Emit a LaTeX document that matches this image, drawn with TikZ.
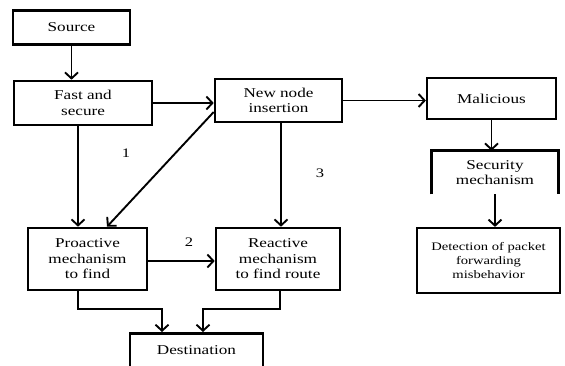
\documentclass[tikz,border=0pt]{standalone}
\usepackage{fontspec}
\setmainfont{Liberation Serif}[FakeStretch=1.27]
\usetikzlibrary{arrows.meta}
\begin{document}
\begin{tikzpicture}[x=1pt,y=-1pt,
  box/.style={draw, line width=2.6pt, inner sep=0pt, align=center,
    font=\fontsize{13.5}{15.5}\selectfont},
  smallbox/.style={box, font=\fontsize{11.5}{14}\selectfont},
  arr/.style={line width=1.9pt, -{Straight Barb[length=6pt,width=13pt,line width=1.9pt]}},
  lbl/.style={font=\fontsize{13}{15}\selectfont}]
\useasboundingbox (0,0) rectangle (565,365);
\clip (0,0) rectangle (565,365);
\node[box, minimum width=117pt, minimum height=34pt] (src) at (71.5,27.5) {Source};
\node[box, minimum width=138pt, minimum height=44pt] (fast) at (83,103) {Fast and\\secure};
\node[box, minimum width=127pt, minimum height=43pt] (new) at (278.5,100.5) {New node\\insertion};
\node[box, line width=2.2pt, minimum width=129pt, minimum height=41pt] (mal) at (491.5,98.5) {Malicious};
\node[box, draw=none, minimum width=124pt, minimum height=41pt] (sec) at (495,172.5) {Security\\mechanism};
\draw[line width=2.8pt] (sec.south west) |- (sec.north east) -- (sec.south east);
\node[smallbox, line width=2.2pt, minimum width=143pt, minimum height=65pt] (det) at (488.5,260.5) {Detection of packet\\forwarding\\misbehavior};
\node[box, minimum width=119pt, minimum height=62pt] (pro) at (87.5,259) {Proactive\\mechanism\\to find};
\node[box, minimum width=124pt, minimum height=62pt] (rea) at (278,259) {Reactive\\mechanism\\to find route};
\node[box, minimum width=133pt, minimum height=46pt, anchor=north] (dst) at (196.5,332) {\raisebox{12pt}{Destination}};

\draw[arr] (src.south) -- (src.south |- fast.north);
\draw[arr] (fast.east) -- (fast.east -| new.west);
\draw[arr] (new.east) -- (new.east -| mal.west);
\draw[arr] (mal.south) -- (mal.south |- sec.north);
\draw[arr] (sec.south) -- (sec.south |- det.north);
\draw[arr] ([xshift=-5pt]fast.south) -- ([xshift=-5pt]fast.south |- pro.north);
\draw[arr] ([yshift=-11.5pt]new.west) -- ([xshift=19.5pt]pro.north);
\draw[arr] ([xshift=2.5pt]new.south) -- ([xshift=2.5pt]new.south |- rea.north);
\draw[arr] ([yshift=-2pt]pro.east) -- ([yshift=-2pt]pro.east -| rea.west);
\draw[arr] ([xshift=-9.5pt]pro.south) -- ++(0,18) -| ([xshift=-34.5pt]dst.north);
\draw[arr] ([xshift=2pt]rea.south) -- ++(0,18) -| ([xshift=6.5pt]dst.north);

\node[lbl] (l1) at (126,153) {1};
\node[lbl] (l2) at (189,242) {2};
\node[lbl] (l3) at (320,173) {3};
\end{tikzpicture}
\end{document}
